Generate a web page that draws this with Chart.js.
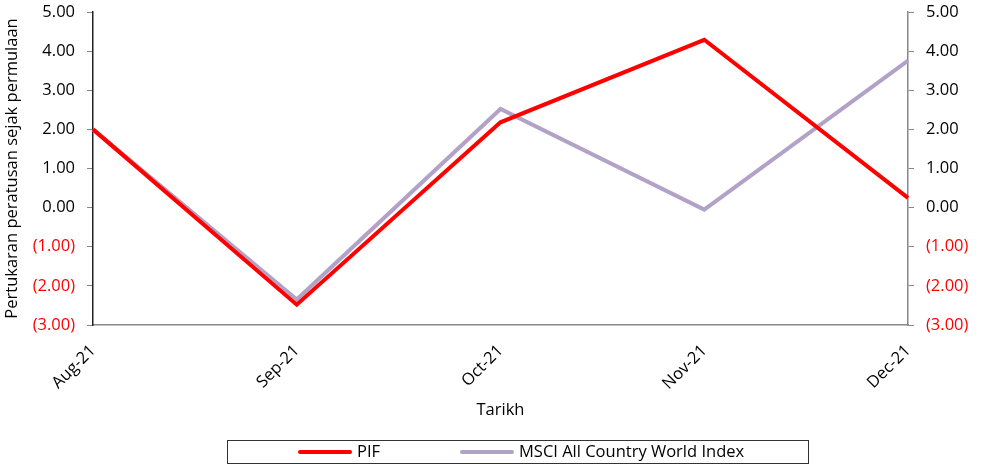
<!DOCTYPE html>
<html>
<head>
<meta charset="utf-8">
<script src="https://cdn.jsdelivr.net/npm/chart.js@4/dist/chart.umd.min.js"></script>
<style>
  html, body { margin: 0; padding: 0; background: #fff; }
  #wrap { width: 981px; height: 464px; }
</style>
</head>
<body>
<div id="wrap"><canvas id="c" width="981" height="464"></canvas></div>
<script>
const months = ['Aug-21', 'Sep-21', 'Oct-21', 'Nov-21', 'Dec-21'];
const pif = [2.00, -2.48, 2.18, 4.29, 0.25];
const msci = [2.00, -2.35, 2.52, -0.05, 3.76];
const yMin = -3, yMax = 5;

const font = "'Open Sans', 'Liberation Sans', sans-serif";
const fs = 16.5;

function fmt(v) {
  const s = Math.abs(v).toFixed(2);
  return v < 0 ? '(' + s + ')' : s;
}

// boxed legend under the chart, built from the datasets
const boxedLegend = {
  id: 'boxedLegend',
  afterDraw(chart) {
    const ctx = chart.ctx;
    ctx.save();
    ctx.strokeStyle = '#333';
    ctx.lineWidth = 1;
    ctx.strokeRect(227.5, 440.5, 581, 23);
    const starts = [300, 462];
    const y = 452;
    ctx.font = fs + 'px ' + font;
    ctx.textBaseline = 'middle';
    ctx.fillStyle = '#000';
    chart.data.datasets.forEach((ds, i) => {
      const x = starts[i];
      ctx.strokeStyle = ds.borderColor;
      ctx.lineWidth = 4;
      ctx.lineCap = 'round';
      ctx.beginPath();
      ctx.moveTo(x, y);
      ctx.lineTo(x + 50, y);
      ctx.stroke();
      ctx.fillText(ds.label, x + 57, y);
    });
    ctx.restore();
  }
};

const yAxis = (pos, borderColor, w) => ({
  type: 'linear',
  position: pos,
  min: yMin,
  max: yMax,
  afterFit: s => { s.width = w; s.paddingTop = 0; s.paddingBottom = 0; },
  grid: { drawOnChartArea: false, drawTicks: true, tickLength: 6, color: '#888' },
  border: { display: true, color: borderColor, width: 1.5 },
  ticks: {
    stepSize: 1,
    padding: 12,
    font: { family: font, size: fs },
    color: ctx => ctx.tick.value < 0 ? '#ff0000' : '#000',
    callback: v => fmt(v)
  }
});

new Chart(document.getElementById('c'), {
  type: 'line',
  data: {
    labels: months,
    datasets: [
      { label: 'PIF', data: pif, borderColor: '#ff0000', backgroundColor: '#ff0000', borderWidth: 4, pointRadius: 0, yAxisID: 'y', fill: false, tension: 0 },
      { label: 'MSCI All Country World Index', data: msci, borderColor: '#b3a2c7', backgroundColor: '#b3a2c7', borderWidth: 4, pointRadius: 0, yAxisID: 'y', fill: false, tension: 0 }
    ]
  },
  options: {
    responsive: false,
    animation: false,
    layout: { autoPadding: false, padding: { left: 0, right: 0, top: 12, bottom: 44 } },
    plugins: {
      legend: { display: false },
      tooltip: { enabled: false }
    },
    scales: {
      x: {
        offset: false,
        afterFit: s => { s.height = 95; },
        grid: { display: false, drawTicks: false },
        border: { display: true, color: '#888', width: 1.5 },
        ticks: {
          minRotation: 45,
          maxRotation: 45,
          padding: 16,
          font: { family: font, size: fs },
          color: '#000'
        },
        title: { display: true, text: 'Tarikh', font: { family: font, size: fs }, color: '#000', padding: 0 }
      },
      y: Object.assign(yAxis('left', '#222', 93), {
        title: { display: true, text: 'Pertukaran peratusan sejak permulaan', font: { family: font, size: fs }, color: '#000', padding: 2 }
      }),
      y1: yAxis('right', '#888', 73)
    }
  },
  plugins: [boxedLegend]
});
</script>
</body>
</html>
